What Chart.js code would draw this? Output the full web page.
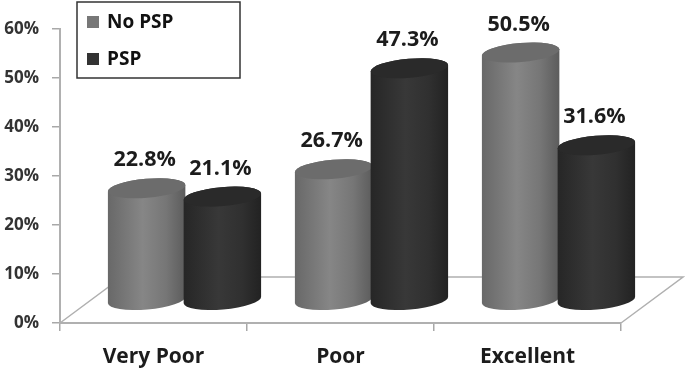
<!DOCTYPE html>
<html>
<head>
<meta charset="utf-8">
<style>
  html, body { margin: 0; padding: 0; background: #fff; }
  canvas { display: block; }
</style>
<script src="https://cdn.jsdelivr.net/npm/chart.js@4"></script>
</head>
<body>
<canvas id="pspChart" width="685" height="368"></canvas>
<script>
const categories = ['Very Poor', 'Poor', 'Excellent'];
const noPsp = [22.8, 26.7, 50.5];
const psp = [21.1, 47.3, 31.6];
const seriesNames = ['No PSP', 'PSP'];
const swatchColors = ['#777777', '#333333'];

const FONT = '"Open Sans", "Noto Sans", sans-serif';
const depthX = 62, depthY = 46;  // depth of the fake 3D floor

// colour stops for the cylinder sides, dark edge -> light middle -> dark edge
const sideStops = [
    [[0, '#686868'], [0.45, '#868686'], [0.75, '#767676'], [1, '#5c5c5c']],
    [[0, '#262626'], [0.45, '#383838'], [0.75, '#303030'], [1, '#222222']]
];
const topColors = ['#6c6c6c', '#2a2a2a'];

function drawCylinder(ctx, bar, baseY, stops, topColor) {
    const cx = bar.x + depthX / 2;
    const ty = bar.y - depthY / 2;
    const by = baseY - depthY / 2;
    const a = bar.width / 2 + 1, b = 9.5, rot = -0.085;
    const ox = a * Math.cos(rot), oy = a * Math.sin(rot);

    const grad = ctx.createLinearGradient(cx - a, 0, cx + a, 0);
    stops.forEach(s => grad.addColorStop(s[0], s[1]));

    ctx.beginPath();
    ctx.moveTo(cx - ox, ty - oy);
    ctx.lineTo(cx - ox, by - oy);
    ctx.ellipse(cx, by, a, b, rot, Math.PI, 0, true);
    ctx.lineTo(cx + ox, ty + oy);
    ctx.ellipse(cx, ty, a, b, rot, 0, Math.PI, true);
    ctx.closePath();
    ctx.fillStyle = grad;
    ctx.fill();

    ctx.beginPath();
    ctx.ellipse(cx, ty, a, b, rot, 0, Math.PI * 2);
    ctx.fillStyle = topColor;
    ctx.fill();
}

const cylinderPlugin = {
    id: 'cylinders',
    beforeDatasetsDraw(chart) {
        // floor of the 3D box
        const ctx = chart.ctx, area = chart.chartArea;
        ctx.save();
        ctx.strokeStyle = '#b0b0b0';
        ctx.lineWidth = 1.5;
        ctx.beginPath();
        ctx.moveTo(area.left, area.bottom);
        ctx.lineTo(area.left + depthX, area.bottom - depthY);
        ctx.lineTo(area.right + depthX, area.bottom - depthY);
        ctx.lineTo(area.right, area.bottom);
        ctx.stroke();
        ctx.restore();
    },
    beforeDatasetDraw() {
        return false;  // cylinders are drawn below instead of flat bars
    },
    afterDatasetsDraw(chart) {
        const ctx = chart.ctx;
        const baseY = chart.scales.y.getPixelForValue(0);
        ctx.save();
        chart.data.datasets.forEach((ds, i) => {
            chart.getDatasetMeta(i).data.forEach(bar => {
                drawCylinder(ctx, bar, baseY, sideStops[i], topColors[i]);
            });
        });
        ctx.fillStyle = '#1c1c1c';
        ctx.font = 'bold 21.5px ' + FONT;
        ctx.textAlign = 'center';
        ctx.textBaseline = 'middle';
        chart.data.datasets.forEach((ds, i) => {
            chart.getDatasetMeta(i).data.forEach((bar, j) => {
                ctx.fillText(ds.data[j].toFixed(1) + '%', bar.x + depthX / 2 - 2, bar.y - depthY / 2 - 28);
            });
        });
        ctx.restore();
    },
    afterDraw(chart) {
        // boxed legend sits over the top of the axis
        const ctx = chart.ctx;
        ctx.save();
        ctx.fillStyle = '#ffffff';
        ctx.strokeStyle = '#333333';
        ctx.lineWidth = 1.5;
        ctx.fillRect(77, 2, 163, 76);
        ctx.strokeRect(77, 2, 163, 76);
        ctx.font = 'bold 19px ' + FONT;
        ctx.textBaseline = 'middle';
        chart.data.datasets.forEach((ds, i) => {
            const y = i === 0 ? 22 : 59;
            ctx.fillStyle = ds.backgroundColor;
            ctx.fillRect(87, y - 6, 12, 12);
            ctx.fillStyle = '#111111';
            ctx.fillText(ds.label, 107, y + 1);
        });
        ctx.restore();
    }
};

new Chart(document.getElementById('pspChart').getContext('2d'), {
    type: 'bar',
    data: {
        labels: categories,
        datasets: [
            { label: seriesNames[0], data: noPsp, backgroundColor: swatchColors[0] },
            { label: seriesNames[1], data: psp, backgroundColor: swatchColors[1] }
        ]
    },
    options: {
        responsive: false,
        animation: false,
        layout: { padding: { top: 29, right: 64, left: 0, bottom: 0 } },
        barPercentage: 1,
        categoryPercentage: 0.81,
        plugins: { legend: { display: false }, tooltip: { enabled: false } },
        scales: {
            x: {
                grid: { drawOnChartArea: false, color: '#a8a8a8', tickLength: 8, lineWidth: 1.5 },
                border: { color: '#b0b0b0', width: 2 },
                ticks: { color: '#1c1c1c', padding: 13, font: { family: FONT, size: 21, weight: 'bold' } },
                afterFit(scale) { scale.height = 45; }
            },
            y: {
                min: 0,
                max: 60,
                grid: { drawOnChartArea: false, color: '#a8a8a8', tickLength: 8, lineWidth: 1.5 },
                border: { color: '#b0b0b0', width: 2 },
                ticks: {
                    stepSize: 10,
                    color: '#333333',
                    padding: 13,
                    font: { family: FONT, size: 17, weight: 'bold' },
                    callback: v => v + '%'
                },
                afterFit(scale) { scale.width = 60; }
            }
        }
    },
    plugins: [cylinderPlugin]
});
</script>
</body>
</html>
